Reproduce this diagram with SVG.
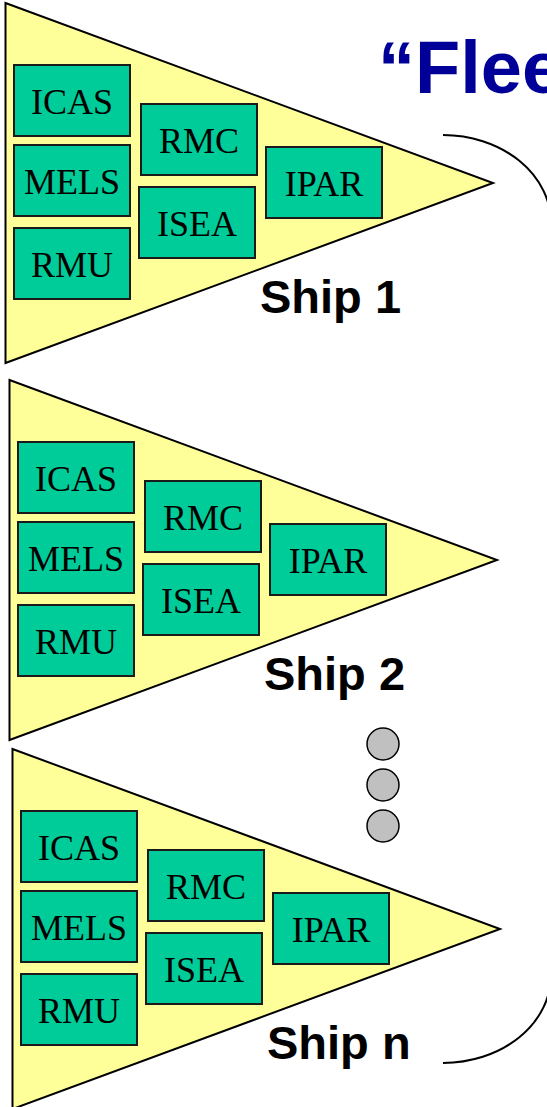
<svg xmlns="http://www.w3.org/2000/svg" width="547" height="1107" viewBox="0 0 547 1107">
<style>
.tri{fill:#FFFF99;stroke:#000;stroke-width:2;stroke-linejoin:miter}
.box{fill:#00CC99;stroke:#1a1a1a;stroke-width:2}
.bt{font-family:"Liberation Serif","Times New Roman",serif;font-size:36px;fill:#000;text-anchor:middle}
.ship{font-family:"Liberation Sans",Arial,sans-serif;font-size:47px;font-weight:bold;fill:#000}
.title{font-family:"Liberation Sans",Arial,sans-serif;font-size:74px;font-weight:bold;fill:#000099}
.dot{fill:#C0C0C0;stroke:#000;stroke-width:1.5}
.brace{fill:none;stroke:#000;stroke-width:2}
</style>
<rect width="547" height="1107" fill="#fff"/>
<g id="title"><text class="title" x="378" y="92.5">“Flee</text></g>

<g id="ship1">
<polygon class="tri" points="5.5,3 493,183 5.5,363"/>
<g id="ship1-icas"><rect class="box" x="14" y="65" width="116" height="71"/><text class="bt" x="72" y="114">ICAS</text></g>
<g id="ship1-mels"><rect class="box" x="14" y="145" width="116" height="71"/><text class="bt" x="72" y="194">MELS</text></g>
<g id="ship1-rmu"><rect class="box" x="14" y="228" width="116" height="71"/><text class="bt" x="72" y="277">RMU</text></g>
<g id="ship1-rmc"><rect class="box" x="141" y="104" width="116" height="71"/><text class="bt" x="199" y="153">RMC</text></g>
<g id="ship1-isea"><rect class="box" x="139" y="187" width="116" height="71"/><text class="bt" x="197" y="236">ISEA</text></g>
<g id="ship1-ipar"><rect class="box" x="266" y="147" width="116" height="71"/><text class="bt" x="324" y="196">IPAR</text></g>
<text class="ship" x="260" y="313">Ship 1</text>
</g>

<g id="ship2" transform="translate(4,377)">
<polygon class="tri" points="5.5,3 493,183 5.5,363"/>
<g id="ship2-icas"><rect class="box" x="14" y="65" width="116" height="71"/><text class="bt" x="72" y="114">ICAS</text></g>
<g id="ship2-mels"><rect class="box" x="14" y="145" width="116" height="71"/><text class="bt" x="72" y="194">MELS</text></g>
<g id="ship2-rmu"><rect class="box" x="14" y="228" width="116" height="71"/><text class="bt" x="72" y="277">RMU</text></g>
<g id="ship2-rmc"><rect class="box" x="141" y="104" width="116" height="71"/><text class="bt" x="199" y="153">RMC</text></g>
<g id="ship2-isea"><rect class="box" x="139" y="187" width="116" height="71"/><text class="bt" x="197" y="236">ISEA</text></g>
<g id="ship2-ipar"><rect class="box" x="266" y="147" width="116" height="71"/><text class="bt" x="324" y="196">IPAR</text></g>
<text class="ship" x="260" y="313">Ship 2</text>
</g>

<g id="shipn" transform="translate(7,746)">
<polygon class="tri" points="5.5,3 493,183 5.5,363"/>
<g id="shipn-icas"><rect class="box" x="14" y="65" width="116" height="71"/><text class="bt" x="72" y="114">ICAS</text></g>
<g id="shipn-mels"><rect class="box" x="14" y="145" width="116" height="71"/><text class="bt" x="72" y="194">MELS</text></g>
<g id="shipn-rmu"><rect class="box" x="14" y="228" width="116" height="71"/><text class="bt" x="72" y="277">RMU</text></g>
<g id="shipn-rmc"><rect class="box" x="141" y="104" width="116" height="71"/><text class="bt" x="199" y="153">RMC</text></g>
<g id="shipn-isea"><rect class="box" x="139" y="187" width="116" height="71"/><text class="bt" x="197" y="236">ISEA</text></g>
<g id="shipn-ipar"><rect class="box" x="266" y="147" width="116" height="71"/><text class="bt" x="324" y="196">IPAR</text></g>
<text class="ship" x="260" y="313">Ship n</text>
</g>

<g id="ellipsis">
<circle class="dot" cx="383" cy="744" r="16"/>
<circle class="dot" cx="383" cy="785" r="16"/>
<circle class="dot" cx="383" cy="826" r="16"/>
</g>

<g id="connectors">
<path class="brace" d="M443,135 A108,88 0 0 1 551,223"/>
<path class="brace" d="M551,975 A108,88 0 0 1 443,1063"/>
</g>
</svg>
